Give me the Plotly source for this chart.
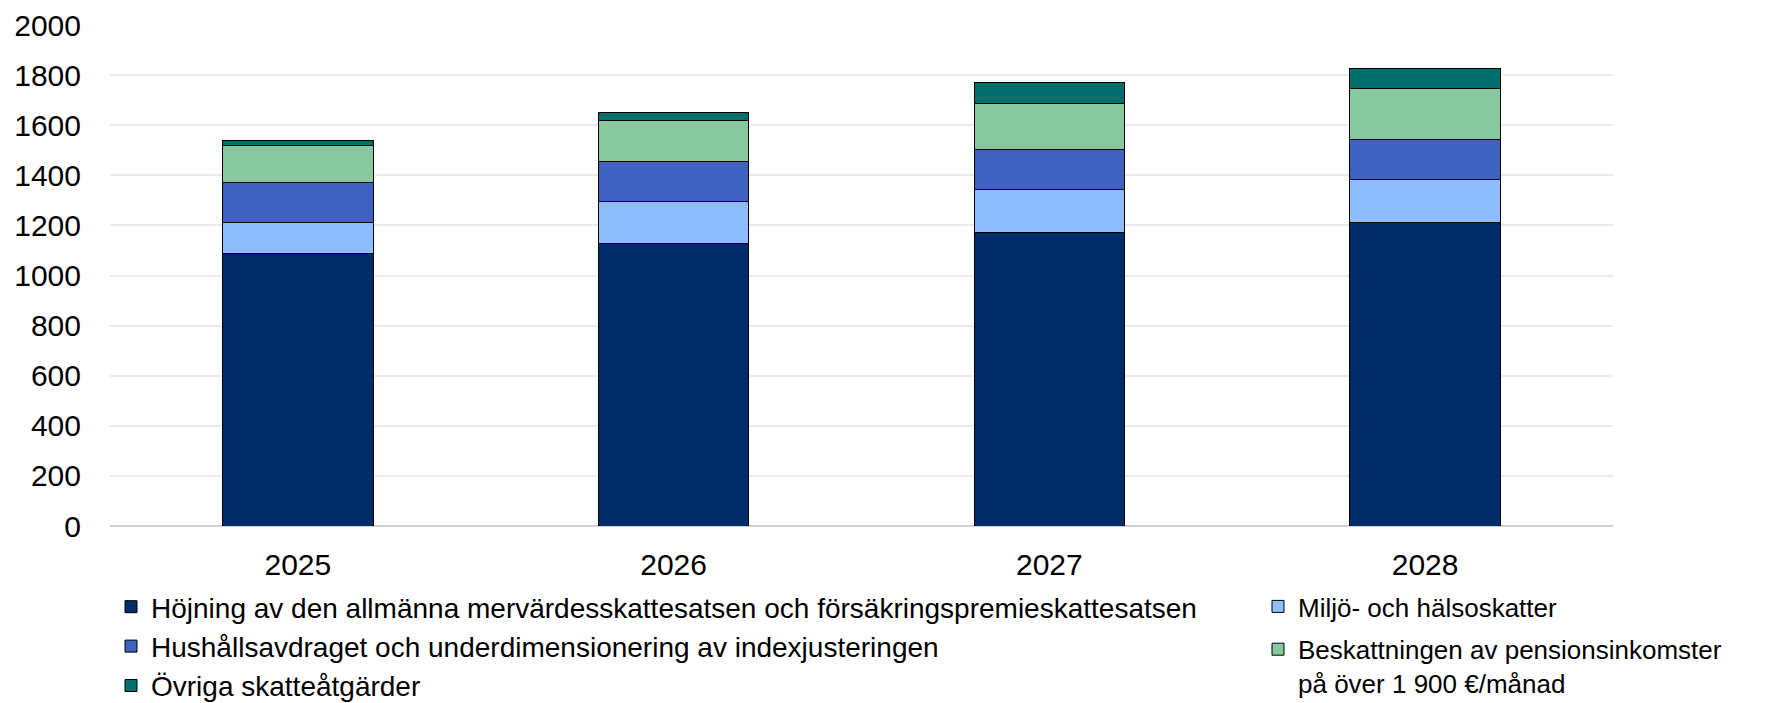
import plotly.graph_objects as go

years = ["2025", "2026", "2027", "2028"]
names = [
    "Höjning av den allmänna mervärdesskattesatsen och försäkringspremieskattesatsen",
    "Miljö- och hälsoskatter",
    "Hushållsavdraget och underdimensionering av indexjusteringen",
    "Beskattningen av pensionsinkomster<br>på över 1 900 €/månad",
    "Övriga skatteåtgärder",
]
moms = [1088, 1128, 1170, 1210]
miljo = [124, 167, 174, 173]
hushall = [160, 159, 158, 159]
pension = [148, 165, 186, 204]
ovriga = [20, 31, 82, 80]
series = [moms, miljo, hushall, pension, ovriga]
colors = ["#002D6A", "#8DBDFF", "#3F62C0", "#86C9A0", "#006F6C"]
legend_of = ["legend", "legend2", "legend", "legend2", "legend"]

fig = go.Figure()
for i, (name, vals, col, lg) in enumerate(zip(names, series, colors, legend_of)):
    fig.add_trace(go.Bar(
        x=years, y=vals, name=name, legend=lg, legendgroup=f"g{i}",
        marker=dict(color=col, line=dict(color="#000000", width=1)),
    ))

font = "Liberation Sans, Arial, sans-serif"
fig.update_layout(
    width=1784, height=703,
    barmode="stack", bargap=0.6,
    plot_bgcolor="white", paper_bgcolor="white",
    margin=dict(l=110, r=171, t=25, b=177, autoexpand=False),
    font=dict(family=font, color="#000000"),
    legend=dict(
        xref="container", yref="container", x=111 / 1784, y=1 - 582 / 703,
        xanchor="left", yanchor="top", orientation="v",
        font=dict(size=28, family=font), bgcolor="rgba(0,0,0,0)",
        traceorder="normal", tracegroupgap=0,
    ),
    legend2=dict(
        xref="container", yref="container", x=1258 / 1784, y=1 - 583 / 703,
        xanchor="left", yanchor="top", orientation="v",
        font=dict(size=26, family=font), bgcolor="rgba(0,0,0,0)",
        traceorder="grouped", valign="top", tracegroupgap=6,
    ),
    showlegend=True,
)
fig.update_yaxes(
    range=[0, 2000], dtick=200, showgrid=True, gridcolor="#EBEBEB", gridwidth=1.5,
    zeroline=True, zerolinecolor="#D0D0D0", zerolinewidth=1.5,
    tickfont=dict(size=30, family=font), ticks="", ticklabelstandoff=28,
)
fig.update_xaxes(
    showline=False, tickfont=dict(size=30, family=font), ticks="",
    ticklabelstandoff=18, tickangle=0,
)

fig.write_html(
    "out.html",
    config={"displayModeBar": False},
    post_script="document.body.style.margin='0';document.body.style.overflow='hidden';",
)
